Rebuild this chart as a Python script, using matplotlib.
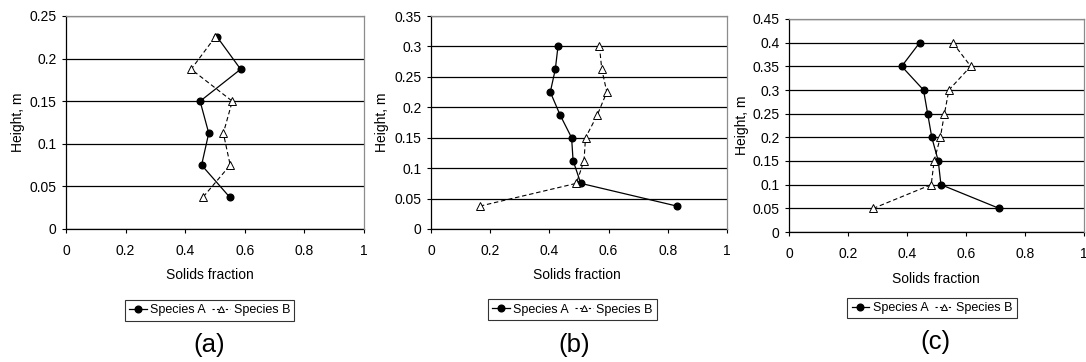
import matplotlib
matplotlib.use("Agg")
import matplotlib.pyplot as plt
from matplotlib.lines import Line2D
from matplotlib.ticker import FuncFormatter, MultipleLocator

plt.rcParams['font.family'] = ['Liberation Sans', 'DejaVu Sans']

# ---- data ----
a_height = [0.225, 0.1875, 0.15, 0.1125, 0.075, 0.0375]
a_speciesA = [0.508, 0.586, 0.450, 0.479, 0.455, 0.549]
a_speciesB = [0.500, 0.420, 0.558, 0.528, 0.551, 0.460]

b_height = [0.30, 0.2625, 0.225, 0.1875, 0.15, 0.1125, 0.075, 0.0375]
b_speciesA = [0.429, 0.420, 0.403, 0.436, 0.475, 0.480, 0.506, 0.832]
b_speciesB = [0.569, 0.577, 0.594, 0.562, 0.522, 0.517, 0.491, 0.164]

c_height = [0.40, 0.35, 0.30, 0.25, 0.20, 0.15, 0.10, 0.05]
c_speciesA = [0.443, 0.382, 0.456, 0.470, 0.484, 0.506, 0.515, 0.712]
c_speciesB = [0.555, 0.616, 0.542, 0.527, 0.513, 0.492, 0.482, 0.286]

panel_labels = ['(a)', '(b)', '(c)']
y_max = [0.25, 0.35, 0.45]
y_step = [0.05, 0.05, 0.05]
x_ticks = [0, 0.2, 0.4, 0.6, 0.8, 1]
series_names = ['Species A', 'Species B']
x_label = 'Solids fraction'
y_label = 'Height, m'

W, H = 1086, 362
fig = plt.figure(figsize=(W / 100, H / 100), dpi=100)

# layout in pixels: (left, top, right, bottom)
boxes = [(66, 16, 364, 229), (431, 16, 727, 229), (789, 19, 1084, 232)]
legend_c = [(209.5, 310.5), (572.5, 309.5), (932, 308)]
xlabel_c = [(210, 275), (577, 275), (936, 279)]
label_c = [(209, 345), (574, 345), (935, 342)]
ylabel_c = [18, 382, 742]

datasets = [(a_height, a_speciesA, a_speciesB),
            (b_height, b_speciesA, b_speciesB),
            (c_height, c_speciesA, c_speciesB)]

fmt = FuncFormatter(lambda v, p: ('%g' % round(v, 4)))

for i, (hgt, sa, sb) in enumerate(datasets):
    l, t, r, b = boxes[i]
    ax = fig.add_axes([l / W, (H - b) / H, (r - l) / W, (b - t) / H])
    ax.set_xlim(0, 1)
    ax.set_ylim(0, y_max[i])
    ax.set_xticks(x_ticks)
    ax.yaxis.set_major_locator(MultipleLocator(y_step[i]))
    ax.xaxis.set_major_formatter(fmt)
    ax.yaxis.set_major_formatter(fmt)
    ax.tick_params(axis='both', direction='out', length=3.2, width=0.8,
                   color='black', labelsize=10, pad=3.5)
    ax.tick_params(axis='x', pad=7.5)
    ax.yaxis.grid(True, color='black', linewidth=0.9)
    ax.set_axisbelow(True)
    for s in ['left', 'bottom']:
        ax.spines[s].set_color('black')
        ax.spines[s].set_linewidth(0.9)
    for s in ['top', 'right']:
        ax.spines[s].set_color('#8c8c8c')
        ax.spines[s].set_linewidth(0.9)
        ax.spines[s].set_zorder(3)
    ax.plot(sa, hgt, color='black', linewidth=0.9, marker='o',
            markersize=4.8, markerfacecolor='black', markeredgecolor='black',
            zorder=4, clip_on=False)
    ax.plot(sb, hgt, color='black', linewidth=0.8, linestyle=(0, (4, 2.5)),
            marker='^', markersize=5.2, markerfacecolor='white',
            markeredgecolor='black', markeredgewidth=0.7, zorder=4,
            clip_on=False)

    fig.text(ylabel_c[i] / W, 1 - ((t + b) / 2) / H, y_label, rotation=90,
             ha='center', va='center', fontsize=10)
    fig.text(xlabel_c[i][0] / W, 1 - xlabel_c[i][1] / H, x_label,
             ha='center', va='center', fontsize=10)
    fig.text(label_c[i][0] / W, 1 - label_c[i][1] / H, panel_labels[i],
             ha='center', va='center', fontsize=18.5)

    handles = [
        Line2D([], [], color='black', linewidth=0.9, marker='o',
               markersize=4.8, markerfacecolor='black'),
        Line2D([], [], color='black', linewidth=0.8, linestyle=(0, (2, 2)),
               marker='^', markersize=5, markerfacecolor='white',
               markeredgewidth=0.7),
    ]
    leg = fig.legend(handles, series_names, loc='center',
                     bbox_to_anchor=(legend_c[i][0] / W, 1 - legend_c[i][1] / H),
                     ncol=2, fontsize=9, frameon=True, fancybox=False,
                     handlelength=1.4, handletextpad=0.3, columnspacing=0.5,
                     borderpad=0.35, borderaxespad=0)
    leg.get_frame().set_edgecolor('black')
    leg.get_frame().set_linewidth(0.8)

fig.savefig('out.png', dpi=100)
